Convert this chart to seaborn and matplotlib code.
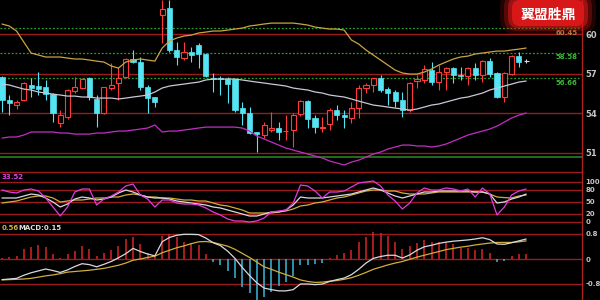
import matplotlib
matplotlib.use("Agg")
import matplotlib.pyplot as plt
from matplotlib.patches import FancyBboxPatch
import numpy as np
import pandas as pd
import seaborn as sns

# ---------------- data ----------------
opens = [56.74, 55.00, 54.62, 55.00, 56.14, 56.06, 55.98, 55.45, 53.26, 53.71,
         55.68, 55.91, 56.67, 55.08, 54.02, 55.91, 56.29, 56.74, 58.11, 57.88,
         55.98, 55.23, 61.44, 61.97, 58.79, 58.18, 58.64, 59.20, 58.49, 56.70,
         56.70, 56.59, 56.59, 54.39, 54.02, 52.55, 52.35, 52.73, 52.88, 52.62,
         52.73, 53.94, 54.92, 53.64, 52.92, 53.18, 54.24, 53.86, 53.64, 54.39,
         55.91, 56.14, 56.67, 55.83, 55.61, 55.00, 54.24, 56.44, 56.52, 57.27,
         56.36, 57.12, 57.42, 56.86, 56.82, 57.42, 56.89, 57.95, 57.05, 55.23,
         56.97, 58.33, 57.95]
highs = [56.80, 55.38, 55.00, 56.40, 56.67, 57.12, 56.52, 55.50, 54.24, 55.80,
         56.74, 56.67, 56.74, 55.38, 56.00, 57.80, 57.50, 58.18, 58.79, 58.26,
         56.14, 55.25, 62.60, 62.60, 59.40, 59.40, 59.00, 59.30, 58.55, 57.05,
         56.82, 56.74, 56.60, 54.85, 54.47, 52.60, 53.33, 54.09, 53.33, 53.86,
         54.02, 55.00, 55.00, 53.86, 53.71, 54.39, 54.62, 54.24, 54.85, 56.14,
         56.29, 56.70, 56.89, 55.98, 55.76, 55.61, 56.36, 56.89, 57.65, 57.88,
         57.65, 57.50, 57.50, 57.50, 57.50, 57.80, 58.03, 58.18, 57.12, 57.12,
         58.41, 58.64, 58.10]
lows = [54.10, 53.86, 54.30, 54.90, 55.23, 55.38, 55.00, 53.33, 52.95, 53.60,
        55.53, 55.80, 55.00, 52.95, 53.94, 55.76, 55.00, 56.67, 57.80, 55.76,
        54.02, 54.47, 59.32, 58.64, 57.65, 58.03, 57.88, 57.42, 56.74, 55.61,
        55.38, 54.77, 54.10, 53.11, 52.40, 51.06, 52.10, 52.58, 51.97, 51.97,
        51.44, 53.79, 52.88, 52.50, 52.58, 52.73, 53.49, 52.88, 53.26, 53.64,
        55.53, 55.61, 55.61, 54.62, 54.47, 53.71, 54.09, 55.91, 56.29, 56.14,
        55.76, 55.76, 56.29, 56.52, 56.14, 56.52, 56.36, 56.74, 55.15, 54.85,
        56.89, 57.50, 57.80]
closes = [55.00, 54.77, 54.85, 56.29, 55.95, 55.83, 55.45, 54.02, 53.86, 55.76,
          55.98, 56.59, 55.23, 54.02, 55.98, 56.14, 56.67, 58.11, 57.88, 55.98,
          55.15, 54.85, 61.89, 58.79, 58.26, 58.64, 58.41, 58.49, 56.82, 56.62,
          56.60, 56.21, 54.24, 54.02, 52.50, 52.45, 53.11, 52.88, 52.58, 52.68,
          53.86, 54.92, 53.56, 52.95, 52.98, 54.24, 53.86, 53.71, 54.39, 55.91,
          56.14, 56.67, 55.76, 55.53, 54.92, 54.24, 56.29, 56.59, 57.35, 56.36,
          57.12, 57.42, 56.89, 56.80, 57.42, 56.89, 57.95, 56.97, 55.23, 57.05,
          58.33, 57.88, 57.95]

boll_upper = [60.76, 60.61, 60.23, 59.39, 58.56, 58.41, 58.26, 58.26, 58.26, 58.18,
              58.11, 58.11, 58.03, 57.95, 57.88, 57.58, 57.42, 57.88, 58.03, 58.11,
              58.03, 57.95, 58.94, 59.47, 59.70, 59.85, 59.92, 60.08, 60.15, 60.23,
              60.23, 60.30, 60.38, 60.45, 60.61, 60.68, 60.76, 60.83, 60.83, 60.83,
              60.83, 60.76, 60.68, 60.53, 60.45, 60.38, 60.38, 60.30, 59.55, 59.24,
              58.79, 58.41, 58.03, 57.65, 57.27, 57.05, 56.97, 56.97, 57.12, 57.35,
              57.65, 57.88, 58.11, 58.26, 58.33, 58.49, 58.56, 58.64, 58.71, 58.71,
              58.79, 58.86, 58.94]
boll_mid = [56.21, 56.14, 55.98, 55.83, 55.76, 55.61, 55.53, 55.45, 55.38, 55.30,
            55.30, 55.23, 55.23, 55.15, 55.15, 55.15, 55.08, 55.15, 55.23, 55.30,
            55.38, 55.61, 55.91, 56.06, 56.14, 56.21, 56.29, 56.36, 56.52, 56.59,
            56.59, 56.59, 56.59, 56.52, 56.44, 56.36, 56.29, 56.21, 56.14, 56.06,
            55.91, 55.83, 55.76, 55.61, 55.53, 55.38, 55.30, 55.23, 55.08, 54.92,
            54.77, 54.62, 54.55, 54.47, 54.39, 54.32, 54.24, 54.32, 54.47, 54.62,
            54.70, 54.85, 55.00, 55.15, 55.23, 55.38, 55.53, 55.76, 55.91, 56.06,
            56.21, 56.36, 56.44]
boll_lower = [52.12, 52.20, 52.20, 52.35, 52.58, 52.58, 52.58, 52.58, 52.50, 52.50,
              52.42, 52.42, 52.42, 52.50, 52.50, 52.58, 52.65, 52.65, 52.73, 52.80,
              52.88, 53.11, 52.58, 52.65, 52.65, 52.73, 52.80, 52.88, 52.95, 52.95,
              52.95, 52.95, 52.95, 52.88, 52.65, 52.27, 52.05, 51.82, 51.59, 51.36,
              51.21, 51.06, 50.91, 50.76, 50.61, 50.38, 50.23, 50.08, 50.30, 50.45,
              50.68, 50.91, 51.06, 51.29, 51.44, 51.59, 51.59, 51.52, 51.52, 51.44,
              51.52, 51.67, 51.89, 52.12, 52.35, 52.50, 52.65, 52.80, 53.03, 53.33,
              53.64, 53.86, 54.02]

kdj_k = [60, 60, 60, 65, 70, 67.5, 60, 50, 37.5, 45,
         57.5, 62.5, 60, 55, 57.5, 62.5, 72.5, 80, 75, 67.5,
         62.5, 60, 60, 57.5, 52.5, 50, 47.5, 45, 42.5, 37.5,
         35, 30, 25, 20, 15, 15, 20, 25, 25, 30,
         42.5, 62.5, 60, 60, 60, 62.5, 65, 67.5, 70, 75,
         80, 85, 80, 72.5, 65, 60, 65, 70, 75, 75,
         77.5, 77.5, 77.5, 77.5, 77.5, 75, 75, 70, 47.5, 50,
         57.5, 62.5, 70]
kdj_d = [47.5, 50, 52.5, 57.5, 62.5, 65, 65, 60, 50, 52.5,
         55, 55, 57.5, 60, 60, 62.5, 62.5, 67.5, 70, 67.5,
         62.5, 62.5, 60, 60, 57.5, 55, 55, 52.5, 52.5, 47.5,
         42.5, 40, 35, 30, 22.5, 22.5, 22.5, 22.5, 25, 27.5,
         32.5, 40, 42.5, 47.5, 50, 55, 60, 62.5, 67.5, 72.5,
         77.5, 80, 80, 77.5, 77.5, 72.5, 70, 70, 70, 72.5,
         75, 75, 75, 75, 75, 75, 75, 70, 62.5, 61,
         60, 65, 67.5]
kdj_j = [80, 75, 72.5, 80, 82.5, 77.5, 60, 37.5, 15, 37.5,
         75, 82.5, 82.5, 42.5, 57.5, 65, 75, 90, 95, 67.5,
         57.5, 37.5, 55, 55, 47.5, 45, 45, 42.5, 35, 25,
         17.5, 7.5, 2.5, 2.5, 0, 2.5, 10, 25, 27.5, 30,
         47.5, 92.5, 90, 77.5, 60, 75, 75, 77.5, 87.5, 97.5,
         100, 102.5, 90, 67.5, 52.5, 32.5, 47.5, 72.5, 85, 80,
         80, 85, 82.5, 77.5, 82.5, 62.5, 85, 70, 17.5, 37.5,
         67.5, 77.5, 82.5]

macd_hist = [0.02, 0.05, 0.10, 0.31, 0.39, 0.45, 0.39, 0.16, 0.02, 0.15,
             0.26, 0.43, 0.32, 0.09, 0.18, 0.29, 0.43, 0.64, 0.71, 0.49,
             0.18, 0.07, 0.75, 0.79, 0.71, 0.55, 0.50, 0.45, 0.15, -0.09,
             -0.20, -0.38, -0.62, -0.90, -1.10, -1.30, -1.20, -1.05, -0.85, -0.75,
             -0.55, -0.20, -0.19, -0.17, -0.14, 0.02, 0.13, 0.18, 0.29, 0.55,
             0.71, 0.87, 0.82, 0.74, 0.53, 0.32, 0.43, 0.50, 0.61, 0.55,
             0.55, 0.55, 0.48, 0.36, 0.36, 0.29, 0.32, 0.20, -0.08, -0.05,
             0.10, 0.15, 0.15]
macd_dif = [-0.66, -0.64, -0.62, -0.52, -0.44, -0.38, -0.32, -0.37, -0.43, -0.35,
            -0.24, -0.15, -0.18, -0.25, -0.17, -0.08, 0.04, 0.17, 0.34, 0.24,
            0.16, 0.10, 0.55, 0.69, 0.76, 0.79, 0.79, 0.78, 0.67, 0.52,
            0.43, 0.25, 0.02, -0.27, -0.53, -0.76, -0.93, -0.98, -1.02, -1.02,
            -0.98, -0.80, -0.80, -0.82, -0.80, -0.72, -0.66, -0.61, -0.50, -0.33,
            -0.13, 0.02, 0.08, 0.12, 0.12, 0.03, 0.13, 0.28, 0.39, 0.44,
            0.50, 0.54, 0.57, 0.59, 0.61, 0.64, 0.68, 0.62, 0.48, 0.47,
            0.52, 0.58, 0.64]
macd_dea = [-0.67, -0.66, -0.65, -0.64, -0.62, -0.58, -0.54, -0.51, -0.47, -0.42,
            -0.40, -0.38, -0.36, -0.33, -0.30, -0.25, -0.20, -0.13, -0.04, 0.00,
            0.05, 0.09, 0.20, 0.28, 0.36, 0.42, 0.49, 0.55, 0.56, 0.53,
            0.47, 0.41, 0.31, 0.18, 0.05, -0.10, -0.25, -0.33, -0.42, -0.50,
            -0.58, -0.67, -0.72, -0.75, -0.74, -0.71, -0.69, -0.65, -0.60, -0.52,
            -0.43, -0.33, -0.26, -0.19, -0.13, -0.08, -0.01, 0.06, 0.12, 0.18,
            0.24, 0.30, 0.34, 0.38, 0.41, 0.45, 0.48, 0.51, 0.53, 0.53,
            0.53, 0.55, 0.58]

price_ticks = [60, 57, 54, 51]
kdj_ticks = [100, 80, 50, 20, 0]
macd_ticks = [0.8, 0, -0.8]
macd_tick_labels = ["0.8", "0", "-0.8"]
ref_levels = [60.45, 58.58, 56.66]
ref_labels = ["60.45", "58.58", "56.66"]
support_level = 50.68
kdj_border = 125
watermark = "翼盟胜鼎"
kdj_label = "33.52"
dea_label = "0.56"
macd_label = "MACD:0.15"

# ---------------- style ----------------
sns.set_theme(style="dark", rc={"axes.facecolor": "black", "figure.facecolor": "black",
                                "axes.grid": False, "savefig.facecolor": "black"})
plt.rcParams["font.family"] = ["DejaVu Sans", "Noto Sans CJK SC"]

RED_GRID = "#9a1c1c"
UP = "#ff3a3a"
DOWN = "#54e4f4"
TICK_COL = "#c4c4c4"

n = len(opens)
idx = np.arange(n)
df = pd.DataFrame({"i": idx, "open": opens, "high": highs, "low": lows, "close": closes,
                   "up": boll_upper, "mid": boll_mid, "low_b": boll_lower,
                   "K": kdj_k, "D": kdj_d, "J": kdj_j,
                   "hist": macd_hist, "dif": macd_dif, "dea": macd_dea})

W, H = 600, 300
fig = plt.figure(figsize=(6, 3), dpi=100)
plot_w = 582 / W
ax1 = fig.add_axes([0, (H - 170) / H, plot_w, 170 / H])
ax2 = fig.add_axes([0, (H - 227) / H, plot_w, 57 / H])
ax3 = fig.add_axes([0, 0, plot_w, 73 / H])

xlim = (-0.275, 79.67)
for ax, ls in ((ax1, 6), (ax2, 5), (ax3, 5)):
    ax.set_facecolor("black")
    ax.set_xlim(*xlim)
    ax.set_xticks([])
    for s in ("top", "left", "bottom"):
        ax.spines[s].set_visible(False)
    ax.spines["right"].set_visible(True)
    ax.spines["right"].set_color("#b02020")
    ax.spines["right"].set_linewidth(1.0)
    ax.yaxis.tick_right()
    ax.tick_params(axis="y", length=0, pad=2.5, labelsize=ls, labelcolor=TICK_COL)

# ---------------- main panel ----------------
ax1.set_ylim(49.70, 62.58)
ax1.set_yticks(price_ticks)
ax1.set_yticklabels([str(t) for t in price_ticks], fontweight="bold")
for lv in price_ticks:
    ax1.axhline(lv, color=RED_GRID, lw=1.0, zorder=1)
for lv in ref_levels:
    ax1.axhline(lv, color="#2aa02a", lw=0.9, ls=(0, (1.5, 1.5)), xmax=0.995, zorder=1)
ax1.axhline(support_level, color="#1f6e1f", lw=1.4, zorder=1)
ref_cols = ["#a88a44", "#38b838", "#38b838"]
for lv, lab, c in zip(ref_levels, ref_labels, ref_cols):
    ax1.text(0.992, lv - 0.12, lab, transform=ax1.get_yaxis_transform(),
             ha="right", va="top", fontsize=5, color=c, fontweight="bold")

bw = 0.70
for i, o, h, l, c in zip(idx, opens, highs, lows, closes):
    if c > o:
        ax1.vlines(i, c, h, color=UP, lw=0.8, zorder=3)
        ax1.vlines(i, l, o, color=UP, lw=0.8, zorder=3)
        ax1.bar(i, c - o, bottom=o, width=bw, facecolor="black", edgecolor=UP,
                linewidth=0.8, zorder=4)
    elif c < o:
        ax1.vlines(i, l, h, color=DOWN, lw=0.8, zorder=3)
        ax1.bar(i, o - c, bottom=c, width=bw, facecolor=DOWN, edgecolor=DOWN,
                linewidth=0.5, zorder=4)
    else:
        ax1.vlines(i, l, h, color="#d8d8d8", lw=0.8, zorder=3)
        ax1.hlines(o, i - bw / 2, i + bw / 2, color="#d8d8d8", lw=0.8, zorder=4)

sns.lineplot(data=df, x="i", y="up", ax=ax1, color="#c9a444", lw=0.9, sort=False, zorder=5)
sns.lineplot(data=df, x="i", y="mid", ax=ax1, color="#c8c8d6", lw=0.9, sort=False, zorder=5)
sns.lineplot(data=df, x="i", y="low_b", ax=ax1, color="#c22ec2", lw=0.9, sort=False, zorder=5)
ax1.set_xlim(*xlim)
ax1.set_xlabel("")
ax1.set_ylabel("")

# ---------------- KDJ panel ----------------
ax2.set_ylim(-12.5, 130)
ax2.set_yticks(kdj_ticks)
ax2.set_yticklabels([str(t) for t in kdj_ticks], fontweight="bold")
for lv in kdj_ticks + [kdj_border]:
    ax2.axhline(lv, color=RED_GRID, lw=1.0, zorder=1)
sns.lineplot(data=df, x="i", y="D", ax=ax2, color="#cfae3c", lw=0.9, sort=False, zorder=3)
sns.lineplot(data=df, x="i", y="K", ax=ax2, color="#d8d8e0", lw=0.9, sort=False, zorder=4)
sns.lineplot(data=df, x="i", y="J", ax=ax2, color="#e03ce0", lw=0.9, sort=False, zorder=5)
ax2.set_xlim(*xlim)
ax2.set_xlabel("")
ax2.set_ylabel("")
ax2.text(0.002, 0.88, kdj_label, transform=ax2.transAxes, ha="left", va="center",
         fontsize=5, color="#e040e0", fontweight="bold")

# ---------------- MACD panel ----------------
ax3.set_ylim(-1.312, 1.024)
ax3.set_yticks(macd_ticks)
ax3.set_yticklabels(macd_tick_labels, fontweight="bold")
for lv in macd_ticks:
    ax3.axhline(lv, color=RED_GRID, lw=1.0, zorder=1)
hist = np.array(macd_hist)
ax3.vlines(idx[hist >= 0], 0, hist[hist >= 0], color="#dc2424", lw=1.1, zorder=2)
ax3.vlines(idx[hist < 0], 0, hist[hist < 0], color="#3cb8dc", lw=1.1, zorder=2)
sns.lineplot(data=df, x="i", y="dea", ax=ax3, color="#cfae3c", lw=0.9, sort=False, zorder=3)
sns.lineplot(data=df, x="i", y="dif", ax=ax3, color="#d8d8e0", lw=0.9, sort=False, zorder=4)
ax3.set_xlim(*xlim)
ax3.set_xlabel("")
ax3.set_ylabel("")
ax3.text(0.003, 0.985, dea_label, transform=ax3.transAxes, ha="left", va="center",
         fontsize=5, color="#d8b040", fontweight="bold")
ax3.text(0.032, 0.985, macd_label, transform=ax3.transAxes, ha="left", va="center",
         fontsize=5, color="#e0e0e0", fontweight="bold")

# ---------------- watermark overlay ----------------
ov = fig.add_axes([0, 0, 1, 1])
ov.set_xlim(0, W)
ov.set_ylim(H, 0)
ov.axis("off")
ov.patch.set_alpha(0)
for (x0, y0, w, h, a, r) in [(500, -10, 96, 44, 0.15, 16), (504, -6, 88, 37, 0.3, 13),
                             (508, -3, 80, 31, 0.55, 10), (512, 0, 72, 26, 1.0, 8)]:
    ov.add_patch(FancyBboxPatch((x0, y0), w, h, boxstyle=f"round,pad=0,rounding_size={r}",
                                facecolor="#d81818", edgecolor="none", alpha=a))
ov.text(548, 15, watermark, ha="center", va="center", fontsize=10, color="white",
        family=["Noto Sans CJK SC"], fontweight="bold")

fig.savefig("out.png", dpi=100, facecolor="black")
